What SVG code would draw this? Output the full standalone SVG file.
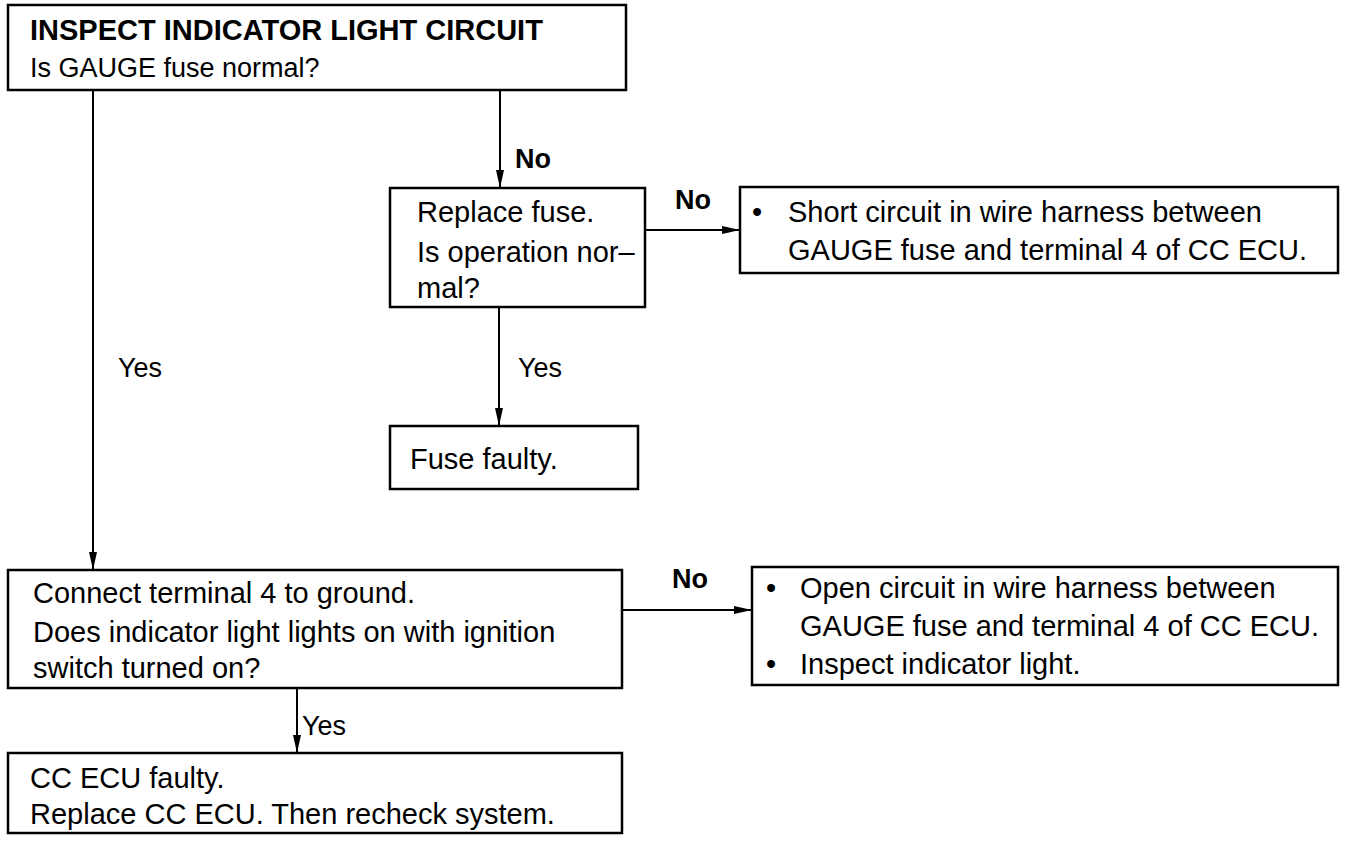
<svg xmlns="http://www.w3.org/2000/svg" width="1348" height="841" viewBox="0 0 1348 841">
<style>
.box{fill:#fff;stroke:#000;stroke-width:2.5}
.t{font-family:"Liberation Sans",Arial,sans-serif;font-size:29px;fill:#000}
.b{font-weight:bold}
.lbl{font-family:"Liberation Sans",Arial,sans-serif;font-size:27px;fill:#000}
.c{fill:none;stroke:#000;stroke-width:2}
</style>
<defs>
<marker id="ah" markerWidth="20" markerHeight="10" refX="18" refY="5" orient="auto" markerUnits="userSpaceOnUse">
<path d="M0,1 L18,5 L0,9 Z" fill="#000"/>
</marker>
</defs>
<g id="connectors">
<line class="c" x1="93" y1="90" x2="93" y2="570" marker-end="url(#ah)"/>
<line class="c" x1="500" y1="90" x2="500" y2="188" marker-end="url(#ah)"/>
<line class="c" x1="645" y1="230" x2="740" y2="230" marker-end="url(#ah)"/>
<line class="c" x1="499" y1="307" x2="499" y2="426" marker-end="url(#ah)"/>
<line class="c" x1="622" y1="610" x2="752" y2="610" marker-end="url(#ah)"/>
<line class="c" x1="297" y1="688" x2="297" y2="753" marker-end="url(#ah)"/>
<text class="lbl" x="118" y="377">Yes</text>
<text class="lbl b" x="515" y="168">No</text>
<text class="lbl b" x="675" y="209">No</text>
<text class="lbl" x="518" y="377">Yes</text>
<text class="lbl b" x="672" y="588">No</text>
<text class="lbl" x="302" y="735">Yes</text>
</g>
<g id="n1">
<rect class="box" x="8" y="5" width="618" height="85"/>
<text class="t b" x="30" y="40">INSPECT INDICATOR LIGHT CIRCUIT</text>
<text class="t" x="30" y="77" style="font-size:27px">Is GAUGE fuse normal?</text>
</g>
<g id="n2">
<rect class="box" x="390" y="188" width="255" height="119"/>
<text class="t" x="417" y="222">Replace fuse.</text>
<text class="t" x="417" y="262">Is operation nor–</text>
<text class="t" x="417" y="298">mal?</text>
</g>
<g id="n3">
<rect class="box" x="740" y="187" width="598" height="86"/>
<text class="t" x="752" y="222">•</text>
<text class="t" x="788" y="222">Short circuit in wire harness between</text>
<text class="t" x="788" y="260">GAUGE fuse and terminal 4 of CC ECU.</text>
</g>
<g id="n4">
<rect class="box" x="390" y="426" width="248" height="63"/>
<text class="t" x="410" y="469">Fuse faulty.</text>
</g>
<g id="n5">
<rect class="box" x="8" y="570" width="614" height="118"/>
<text class="t" x="33" y="603">Connect terminal 4 to ground.</text>
<text class="t" x="33" y="642">Does indicator light lights on with ignition</text>
<text class="t" x="33" y="678">switch turned on?</text>
</g>
<g id="n6">
<rect class="box" x="752" y="567" width="586" height="118"/>
<text class="t" x="766" y="598">•</text>
<text class="t" x="800" y="598">Open circuit in wire harness between</text>
<text class="t" x="800" y="636">GAUGE fuse and terminal 4 of CC ECU.</text>
<text class="t" x="766" y="674">•</text>
<text class="t" x="800" y="674">Inspect indicator light.</text>
</g>
<g id="n7">
<rect class="box" x="8" y="753" width="614" height="80"/>
<text class="t" x="30" y="788">CC ECU faulty.</text>
<text class="t" x="30" y="824">Replace CC ECU. Then recheck system.</text>
</g>
</svg>
